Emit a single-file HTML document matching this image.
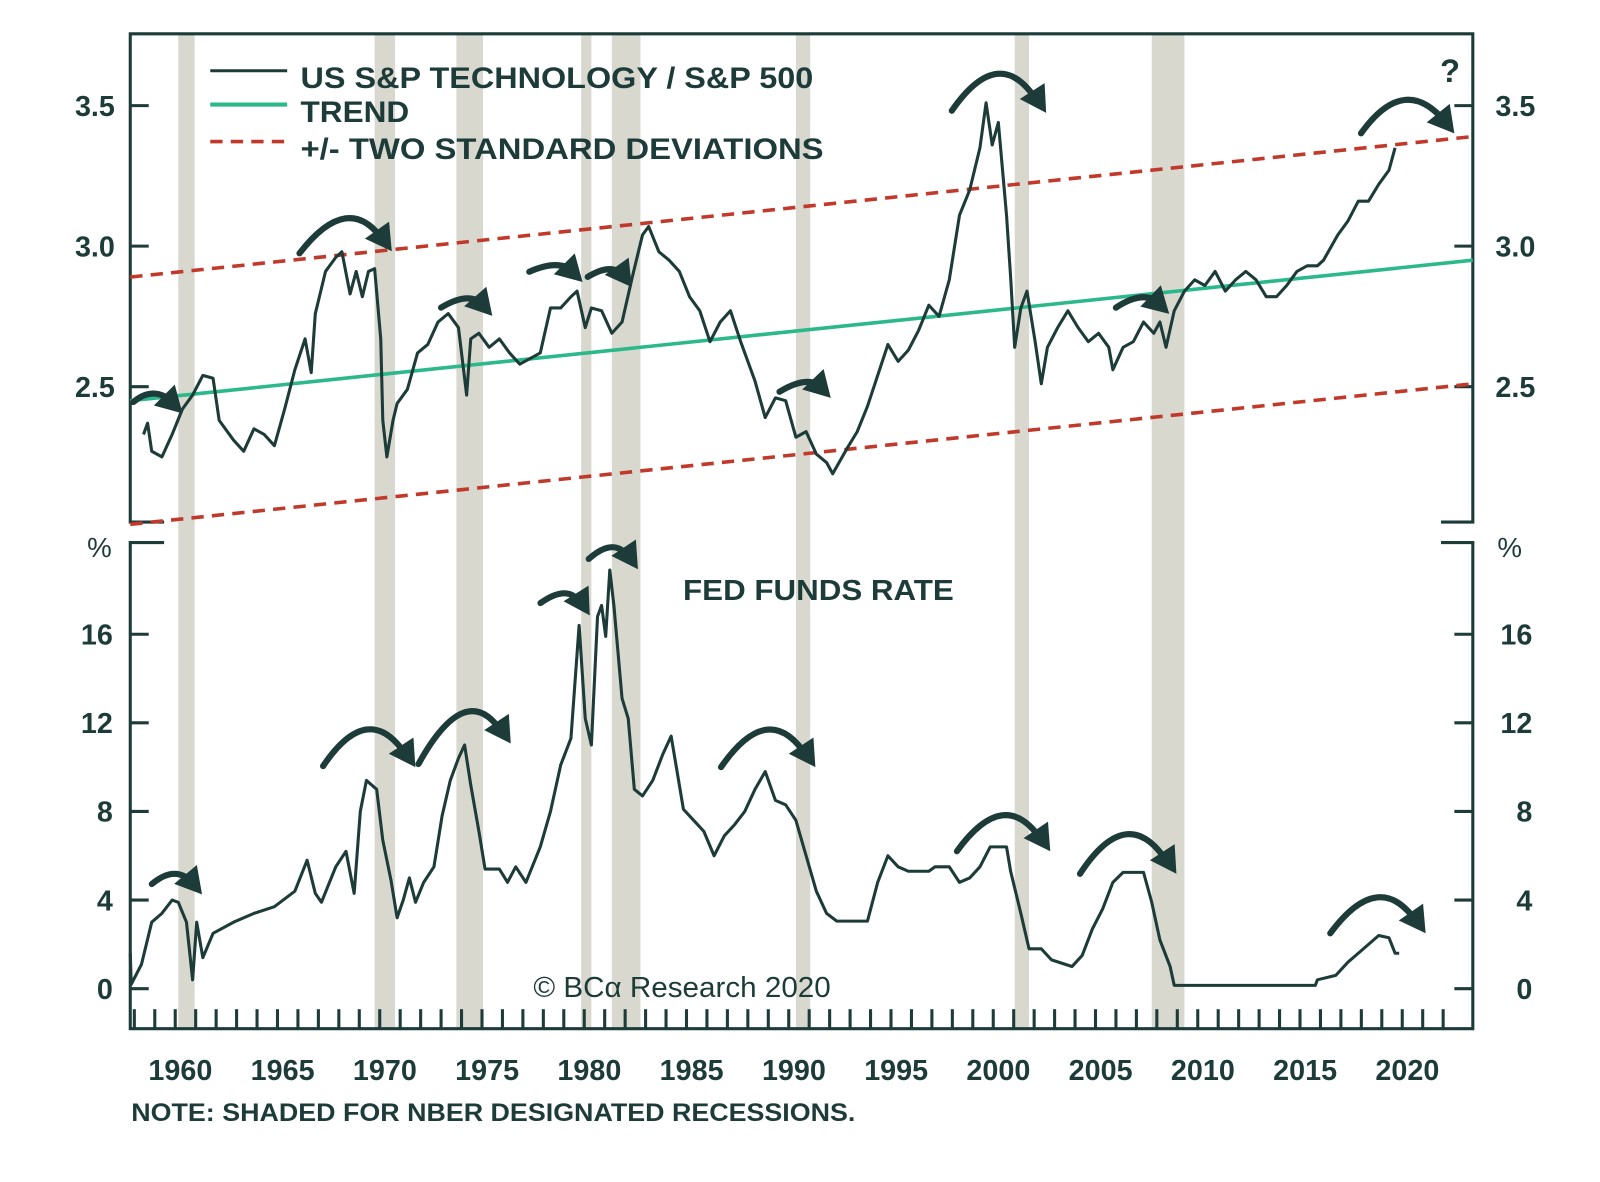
<!DOCTYPE html>
<html><head><meta charset="utf-8"><style>
html,body{margin:0;padding:0;background:#fff;}
svg{display:block;}
text{font-family:"Liberation Sans",sans-serif;fill:#1d3b39;}
</style></head><body>
<svg id="chart" width="1600" height="1182" viewBox="0 0 1560 1152.5" preserveAspectRatio="none" xmlns="http://www.w3.org/2000/svg">
<g id="shade"></g>
<g id="frame" stroke="#1d3b39" stroke-width="3" fill="none">
<path d="M160,509 H127 V33 H1436 V509 H1405"/>
<path d="M160,529 H127 V1003 H1436 V529 H1405"/>
</g>
<g id="axes"></g>
<g id="upper"></g>
<g id="lower"></g>
<g id="arrows" fill="none" stroke="#1d3b39" stroke-width="6" stroke-linecap="round"></g>
<g>
<line x1="205" y1="69" x2="280" y2="69" stroke="#1d3b39" stroke-width="3"/>
<text x="293" y="86" font-size="29" font-weight="bold" textLength="500" lengthAdjust="spacingAndGlyphs">US S&amp;P TECHNOLOGY / S&amp;P 500</text>
<line x1="205" y1="102" x2="280" y2="102" stroke="#2bb88a" stroke-width="4"/>
<text x="293" y="119" font-size="29" font-weight="bold" textLength="106" lengthAdjust="spacingAndGlyphs">TREND</text>
<line x1="205" y1="138" x2="280" y2="138" stroke="#c0392b" stroke-width="3.5" stroke-dasharray="12 8"/>
<text x="293" y="155" font-size="29" font-weight="bold" textLength="510" lengthAdjust="spacingAndGlyphs">+/- TWO STANDARD DEVIATIONS</text>
</g>
<text x="1404" y="80" font-size="32" font-weight="bold">?</text>
<text x="666" y="585" font-size="28" font-weight="bold" textLength="264" lengthAdjust="spacingAndGlyphs">FED FUNDS RATE</text>
<text x="520" y="972" font-size="28" font-family="Liberation Serif, serif" textLength="290" lengthAdjust="spacingAndGlyphs">© BCα Research 2020</text>
<text x="128" y="1093" font-size="24" font-weight="bold" textLength="706" lengthAdjust="spacingAndGlyphs">NOTE: SHADED FOR NBER DESIGNATED RECESSIONS.</text>
<text x="85" y="543" font-size="27">%</text>
<text x="1460" y="543" font-size="27">%</text>
</svg>
<script>
const recessions=[[1960.3,1961.1],[1969.9,1970.9],[1973.9,1975.2],[1980.0,1980.5],[1981.5,1982.9],[1990.5,1991.2],[2001.2,2001.9],[2007.9,2009.5]];
const xYears=[1960,1965,1970,1975,1980,1985,1990,1995,2000,2005,2010,2015,2020];
const upperTicks=[2.5,3.0,3.5];
const lowerTicks=[0,4,8,12,16];
const ratioYears=[1958.6,1958.8,1959,1959.5,1960,1960.5,1961,1961.5,1962,1962.3,1963,1963.5,1964,1964.5,1965,1965.5,1966,1966.5,1966.8,1967,1967.5,1968,1968.3,1968.7,1969,1969.3,1969.6,1969.9,1970.2,1970.3,1970.5,1970.8,1971,1971.5,1972,1972.5,1973,1973.5,1974,1974.4,1974.6,1975,1975.5,1976,1976.5,1977,1977.5,1978,1978.5,1979,1979.5,1979.8,1980.2,1980.5,1981,1981.5,1982,1982.5,1983,1983.3,1983.8,1984.3,1984.8,1985.3,1985.8,1986.3,1986.8,1987.3,1987.8,1988.5,1989,1989.5,1990,1990.5,1991,1991.5,1992,1992.3,1993,1993.5,1994,1994.5,1995,1995.5,1996,1996.5,1997,1997.5,1998,1998.5,1999,1999.5,1999.8,2000.1,2000.4,2000.8,2001,2001.2,2001.5,2001.8,2002.2,2002.5,2002.8,2003.3,2003.8,2004.3,2004.8,2005.3,2005.8,2006,2006.5,2007,2007.5,2008,2008.3,2008.6,2009,2009.5,2010,2010.5,2011,2011.5,2012,2012.5,2013,2013.5,2014,2014.5,2015,2015.5,2016,2016.3,2017,2017.5,2018,2018.5,2019,2019.5,2019.8];
const ratioValues=[2.33,2.37,2.27,2.25,2.33,2.42,2.47,2.54,2.53,2.38,2.31,2.27,2.35,2.33,2.29,2.42,2.56,2.67,2.55,2.76,2.91,2.96,2.98,2.83,2.91,2.82,2.91,2.92,2.67,2.38,2.25,2.38,2.44,2.49,2.62,2.65,2.73,2.76,2.71,2.47,2.67,2.69,2.64,2.67,2.62,2.58,2.60,2.62,2.78,2.78,2.82,2.84,2.71,2.78,2.77,2.69,2.73,2.89,3.04,3.07,2.98,2.95,2.91,2.82,2.77,2.66,2.73,2.77,2.66,2.52,2.39,2.46,2.45,2.32,2.34,2.26,2.23,2.19,2.28,2.34,2.43,2.54,2.65,2.59,2.63,2.70,2.79,2.75,2.88,3.11,3.20,3.35,3.51,3.36,3.44,3.11,2.89,2.64,2.78,2.84,2.66,2.51,2.64,2.71,2.77,2.71,2.66,2.69,2.64,2.56,2.64,2.66,2.73,2.69,2.73,2.64,2.77,2.84,2.88,2.86,2.91,2.84,2.88,2.91,2.88,2.82,2.82,2.86,2.91,2.93,2.93,2.95,3.04,3.09,3.16,3.16,3.22,3.27,3.35];
const fedYears=[1957.6,1958,1958.5,1959,1959.5,1960,1960.3,1960.7,1961,1961.2,1961.5,1962,1963,1964,1965,1966,1966.6,1967,1967.3,1968,1968.5,1968.9,1969.2,1969.5,1970,1970.3,1970.7,1971,1971.3,1971.6,1971.9,1972.3,1972.8,1973.2,1973.6,1974,1974.3,1974.6,1975,1975.3,1976,1976.4,1976.8,1977.3,1978,1978.5,1979,1979.5,1979.9,1980.2,1980.5,1980.8,1981,1981.2,1981.4,1981.6,1982,1982.3,1982.6,1983,1983.5,1984,1984.4,1985,1985.5,1986,1986.5,1987,1987.5,1988,1988.5,1989,1989.5,1990,1990.5,1991,1991.5,1992,1992.5,1994,1994.5,1995,1995.5,1996,1997,1997.3,1998,1998.5,1999,1999.5,2000,2000.8,2001,2001.5,2001.9,2002.5,2003,2004,2004.5,2005,2005.5,2006,2006.5,2007.5,2007.9,2008.3,2008.8,2009,2015.9,2016,2016.9,2017.5,2018,2018.5,2019,2019.5,2019.8,2020];
const fedValues=[1.6,0.2,1.1,3.0,3.4,4.0,3.9,3.0,0.4,3.0,1.4,2.5,3.0,3.4,3.7,4.4,5.8,4.3,3.9,5.5,6.2,4.3,8.0,9.4,9.0,6.7,4.9,3.2,4.0,5.0,3.9,4.8,5.5,7.8,9.4,10.4,11.0,9.2,7.1,5.4,5.4,4.8,5.5,4.8,6.4,8.0,10.1,11.3,16.4,12.2,11.0,16.8,17.3,15.9,18.9,17.3,13.1,12.2,9.0,8.7,9.4,10.6,11.4,8.1,7.6,7.1,6.0,6.9,7.4,8.0,9.0,9.8,8.5,8.3,7.6,6.0,4.4,3.4,3.05,3.05,4.8,6.0,5.5,5.3,5.3,5.5,5.5,4.8,5.0,5.5,6.4,6.4,5.3,3.4,1.8,1.8,1.3,1.0,1.5,2.7,3.6,4.8,5.25,5.25,3.9,2.2,1.0,0.15,0.15,0.4,0.6,1.2,1.6,2.0,2.4,2.3,1.6,1.6];
const trendStart=2.45, trendEnd=2.95, bandWidth=0.44;

const NS="http://www.w3.org/2000/svg";
const X0=1957.55,X1=2023.2,PX0=127,PX1=1436,DOFF=-8;
function xs(y){return PX0+(y-X0)*(PX1-PX0)/(X1-X0);}
function xd(y){return xs(y)+DOFF;}
function yu(v){return 240-(v-3.0)*274;}
function yl(v){return 964-v*21.6;}
function mk(tag,attrs,parent){const e=document.createElementNS(NS,tag);for(const k in attrs)e.setAttribute(k,attrs[k]);parent.appendChild(e);return e;}

const shade=document.getElementById('shade');
recessions.forEach(r=>{
 const e=mk('rect',{x:xd(r[0]),y:33,width:xd(r[1])-xd(r[0]),height:970,fill:'#d8d8cf'},shade);
 
 
});

const axes=document.getElementById('axes');
upperTicks.forEach(t=>{
 const y=yu(t);
 const a=mk('line',{x1:127,x2:145,y1:y,y2:y,stroke:'#1d3b39','stroke-width':3},axes);
 
 
 const b=mk('line',{x1:1418,x2:1436,y1:y,y2:y,stroke:'#1d3b39','stroke-width':3},axes);
 
 
 const l=mk('text',{x:112,y:y+10,'font-size':28,'text-anchor':'end','font-weight':'bold'},axes);l.textContent=t.toFixed(1);
 
 
 const r=mk('text',{x:1458,y:y+10,'font-size':28,'font-weight':'bold'},axes);r.textContent=t.toFixed(1);
 
 
});
lowerTicks.forEach(t=>{
 const y=yl(t);
 const a=mk('line',{x1:127,x2:145,y1:y,y2:y,stroke:'#1d3b39','stroke-width':3},axes);
 
 
 const b=mk('line',{x1:1418,x2:1436,y1:y,y2:y,stroke:'#1d3b39','stroke-width':3},axes);
 
 
 const l=mk('text',{x:110,y:y+10,'font-size':28,'text-anchor':'end','font-weight':'bold'},axes);l.textContent=t;
 
 
 const r=mk('text',{x:1494,y:y+10,'font-size':28,'text-anchor':'end','font-weight':'bold'},axes);r.textContent=t;
 
 
});
for(let yr=1958;yr<=2022;yr++){
 const x=xs(yr)-5;
 const t=mk('line',{x1:x,x2:x,y1:984,y2:1003,stroke:'#1d3b39','stroke-width':3},axes);
 
 
}
xYears.forEach(yr=>{
 const t=mk('text',{x:xs(yr),y:1053,'font-size':28,'text-anchor':'middle','font-weight':'bold'},axes);t.textContent=yr;
 
 
});

const up=document.getElementById('upper');
[[bandWidth,'upper-band'],[-bandWidth,'lower-band']].forEach(([d,n])=>{
 const e=mk('line',{x1:PX0,y1:yu(trendStart+d),x2:PX1,y2:yu(trendEnd+d),stroke:'#c0392b','stroke-width':3.5,'stroke-dasharray':'12 8'},up);
 
 
});
const tr=mk('line',{x1:PX0,y1:yu(trendStart),x2:PX1,y2:yu(trendEnd),stroke:'#2bb88a','stroke-width':3.5},up);


const rp=mk('polyline',{points:ratioYears.map((y,i)=>xd(y)+','+yu(ratioValues[i])).join(' '),fill:'none',stroke:'#1d3b39','stroke-width':3,'stroke-linejoin':'round'},up);



const lo=document.getElementById('lower');
const fp=mk('polyline',{points:fedYears.map((y,i)=>Math.max(PX0,xd(y))+','+yl(fedValues[i])).join(' '),fill:'none',stroke:'#1d3b39','stroke-width':3,'stroke-linejoin':'round'},lo);



const arrows=[[130,392,150,375,178,403],[292,247,340,185,382,245],[430,300,458,283,480,308],[516,265,545,252,568,275],[573,270,598,255,616,280],[760,382,788,365,810,388],[928,108,975,40,1020,110],[1088,300,1115,282,1140,306],[1327,130,1370,70,1418,130],
[148,862,172,842,197,872],[315,747,360,680,405,748],[408,745,455,660,498,725],[527,588,555,568,575,600],[574,545,600,522,622,555],[703,748,750,680,795,748],[933,830,980,765,1024,830],[1053,852,1100,780,1147,852],[1297,910,1345,845,1390,910]];
const ag=document.getElementById('arrows');
arrows.forEach(a=>{
 const p=mk('path',{d:`M${a[0]},${a[1]} Q${a[2]},${a[3]} ${a[4]-8},${a[5]-10}`},ag);
 
 
 const dx=a[4]-a[2],dy=a[5]-a[3],L=Math.hypot(dx,dy),ux=dx/L,uy=dy/L,s=18;
 const h=mk('polygon',{points:`${a[4]},${a[5]} ${a[4]-ux*s*1.4-uy*s*0.8},${a[5]-uy*s*1.4+ux*s*0.8} ${a[4]-ux*s*1.4+uy*s*0.8},${a[5]-uy*s*1.4-ux*s*0.8}`,fill:'#1d3b39',stroke:'none'},ag);
 
 
});
</script>
</body></html>
